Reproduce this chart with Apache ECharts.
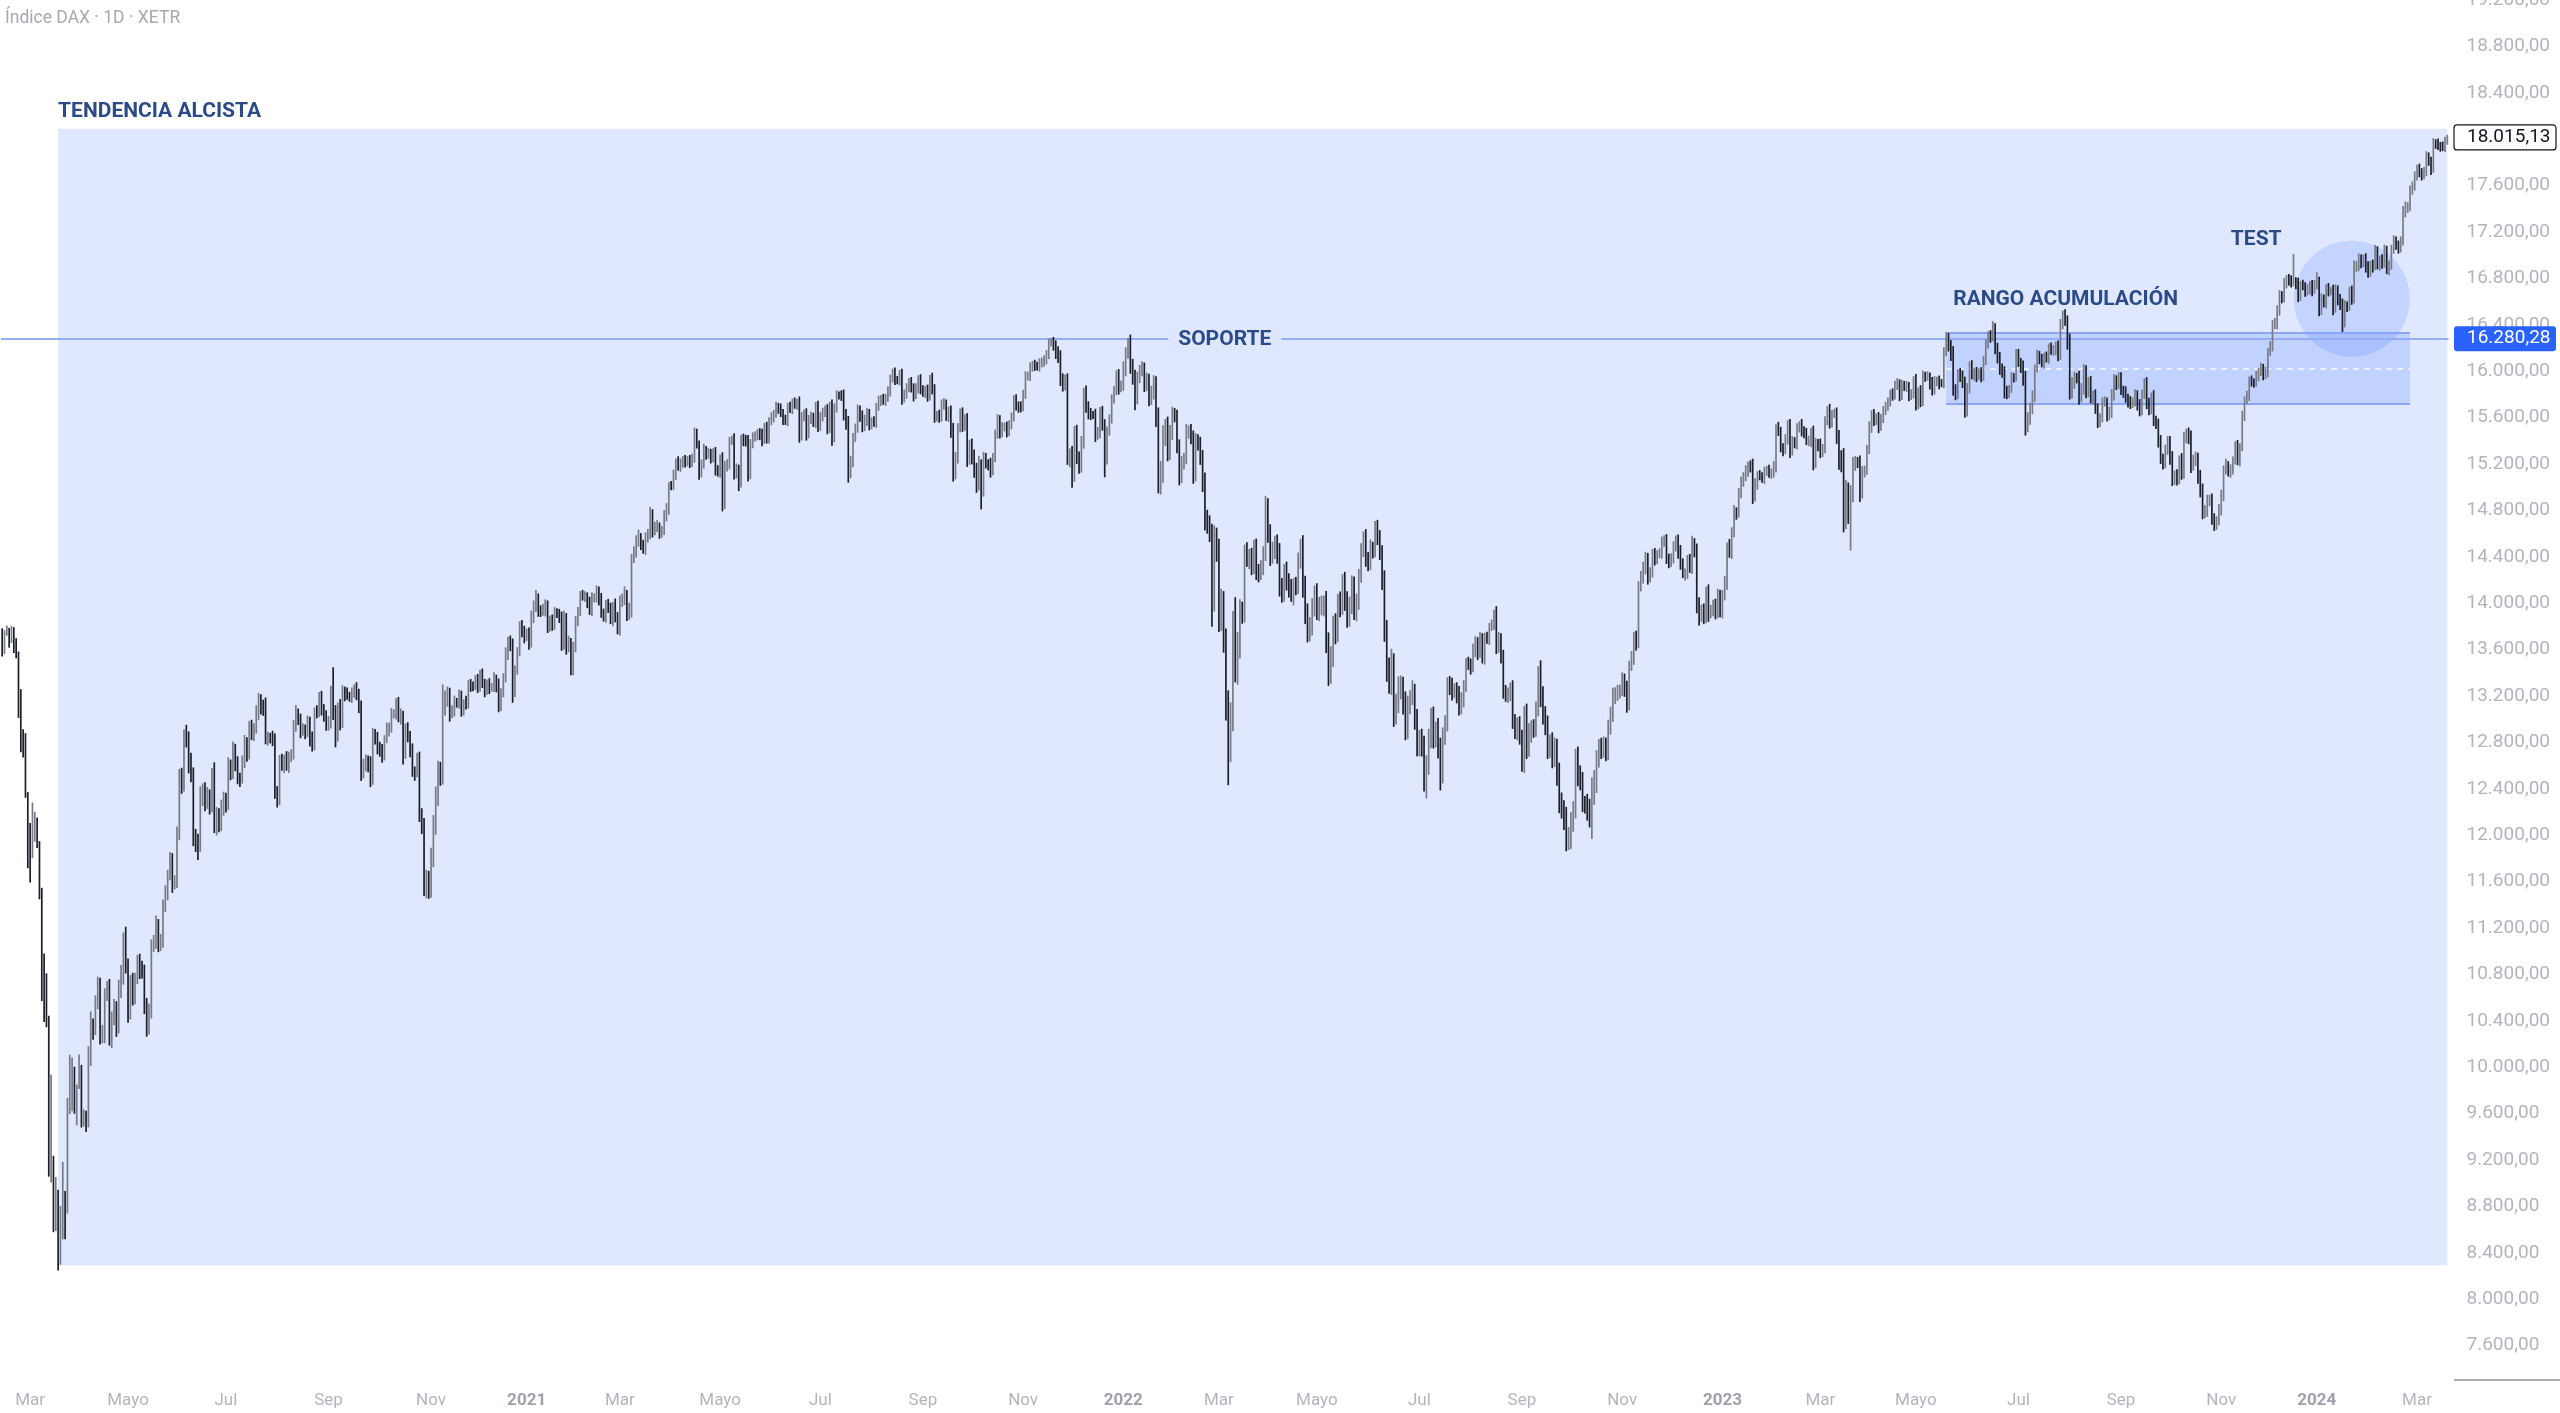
<!DOCTYPE html>
<html><head><meta charset="utf-8">
<script src="https://cdn.jsdelivr.net/npm/echarts@6/dist/echarts.min.js"></script>
<style>html,body{margin:0;padding:0;background:#fff;}#c{width:2560px;height:1413px;}</style>
</head><body><div id="c"></div>
<script>
// ---------- DATA ----------
const monthNames = ['Ene','Feb','Mar','Abr','Mayo','Jun','Jul','Ago','Sep','Oct','Nov','Dic'];
// trading sessions per month (2020 starts on 13 Feb, 2024 ends on 20 Mar)
const sessions2020 = [0,12,22,20,20,22,23,21,22,22,21,20];
const sessions2021 = [20,20,23,20,21,22,22,22,22,21,22,21];
const sessions2022 = [21,20,23,19,22,22,21,23,22,21,22,21];
const sessions2023 = [22,20,23,18,22,22,21,23,21,22,22,19];
const sessions2024 = [22,21,14];
const firstOpen = 13750;

const close2020 = [
13595,13744,13783,13681,13789,13664,13579,13035,12790,12775,12367,11890,
11857,12128,12128,11945,11542,10625,10475,10439,9161,9232,8742,8939,8442,8610,8929,8742,9701,9874,10000,9633,9816,9936,
9544,9571,9526,10075,10356,10332,10565,10697,10280,10301,10626,10676,10250,10416,10514,10336,10660,10796,11107,10862,
10467,10730,10606,10760,10904,10824,10820,10542,10337,10465,11058,11075,11223,11066,11074,11391,11504,11657,11781,11587,
11590,12021,12487,12431,12848,12820,12617,12530,11970,11949,11911,12316,12382,12281,12331,12262,12524,12093,12178,12089,12232,12311,
12261,12608,12528,12734,12616,12494,12489,12633,12800,12697,12931,12874,12920,13046,13171,13104,13103,12838,12838,12836,12822,12379,12313,
12647,12600,12660,12591,12675,12687,12947,13058,12994,12901,12920,12882,12977,12830,12765,13066,13062,13190,13096,13033,12945,
12974,13243,13057,12842,13100,12968,13237,13209,13202,13194,13218,13255,13208,13116,12542,12594,12642,12606,12469,12871,12826,12761,
12731,12689,12828,12906,12928,13042,13051,13138,13018,13028,12703,12909,12855,12737,12558,12543,12646,12178,12064,11560,11598,11556,
11788,12089,12325,12568,12480,13096,13163,13217,13053,13077,13139,13134,13202,13086,13138,13127,13292,13290,13286,13336,13291,
13382,13313,13253,13299,13271,13278,13340,13296,13114,13223,13362,13565,13667,13631,13246,13418,13587,13790,13761,13719];
const hiExt2020 = [
3,2,2,0,1,0,3,0,22,12,10,0,
21,15,7,2,0,0,35,33,0,70,0,11,0,19,25,0,3,23,8,0,3,17,
8,6,5,10,12,6,5,8,7,6,5,6,8,6,7,5,9,8,5,10,
7,6,8,5,6,7,9,6,5,8,4,6,8,5,7,5,6,4,7,6,
6,5,8,9,6,10,7,9,5,8,6,10,6,7,8,6,5,10,6,5,7,6,
5,6,4,7,5,6,4,5,6,4,5,6,4,7,5,4,6,8,5,4,6,5,4,
4,5,3,6,4,5,4,6,3,5,4,3,5,4,6,3,5,4,5,3,4,
5,4,20,6,4,7,5,4,6,3,5,4,6,5,4,6,5,4,7,5,4,6,
4,5,3,6,4,5,3,4,5,6,4,5,6,4,5,3,6,7,5,8,10,9,
10,8,9,7,6,20,8,6,5,4,6,4,5,4,3,6,4,5,3,4,5,
4,5,3,4,5,3,6,4,5,4,3,5,4,5,6,4,3,5,6,4];
const loExt2020 = [
5,3,2,6,2,9,5,2,7,10,4,17,
26,5,18,5,9,5,8,9,10,15,16,15,19,14,9,22,0,10,25,3,13,0,
6,5,8,4,6,9,5,6,8,7,9,5,6,8,5,7,4,6,8,5,
8,5,7,6,4,6,5,8,7,5,4,6,5,7,6,4,5,6,4,8,
5,4,6,7,5,6,8,7,6,9,12,5,6,7,5,8,6,7,9,6,5,6,
6,4,5,4,6,5,7,4,5,6,4,5,6,4,5,6,7,5,6,4,5,6,7,
5,4,6,3,5,4,3,5,4,6,4,5,3,6,4,3,5,4,6,5,4,
4,5,6,8,3,6,4,5,3,4,5,3,4,6,7,5,4,6,5,3,4,6,
5,6,4,3,5,4,3,5,4,6,9,4,5,6,5,7,4,6,5,8,10,10,
9,6,8,7,5,4,6,5,7,4,5,3,4,6,5,4,3,5,4,3,6,
5,4,6,4,5,3,4,6,5,4,3,4,5,4,10,5,3,4,5,6];

const close2021 = [
13726,13652,13892,13969,14050,13937,13926,13940,13989,13788,13848,13816,13922,13907,13874,13644,13871,13621,13666,13433,
13622,13835,13933,14060,14057,14059,14012,13933,14041,14050,14109,14034,13909,13886,13993,13950,13865,13976,13879,13786,
14012,14039,14080,13920,13920,14381,14437,14541,14570,14502,14461,14557,14596,14776,14621,14657,14662,14610,14621,14749,14818,15009,15008,
15107,15212,15177,15203,15234,15215,15234,15209,15255,15460,15368,15129,15195,15321,15280,15296,15249,15292,15155,15136,
15237,14856,15170,15197,15400,15400,15120,15150,15031,15417,15397,15386,15113,15370,15438,15438,15465,15450,15407,15520,15421,
15568,15603,15633,15693,15677,15640,15581,15571,15693,15674,15729,15711,15728,15448,15603,15636,15456,15589,15607,15554,15691,15531,
15603,15650,15661,15511,15692,15421,15688,15791,15790,15788,15630,15540,15133,15216,15423,15514,15669,15618,15519,15571,15640,15544,
15568,15555,15692,15745,15761,15745,15770,15826,15937,15977,15925,15922,15966,15765,15808,15852,15906,15861,15794,15852,15930,15835,
15824,15840,15781,15932,15844,15610,15623,15610,15701,15722,15616,15651,15490,15132,15249,15506,15644,15531,15574,15249,15365,15261,
15156,15036,15195,14973,15251,15206,15199,15147,15250,15462,15587,15474,15516,15522,15473,15543,15600,15758,15705,15696,15689,
15806,15955,15960,16030,16054,16047,16040,16067,16083,16094,16148,16248,16251,16221,16160,16116,15937,15878,15917,15257,15280,15100,
15473,15263,15170,15387,15813,15687,15639,15623,15622,15454,15476,15637,15532,15240,15479,15593,15756,15838,15964,15853,15885];
const hiExt2021 = [
5,6,4,5,6,3,4,5,4,3,4,5,4,3,4,5,6,4,5,3,
4,5,3,4,5,4,3,4,5,3,4,3,5,4,3,4,5,3,6,4,
5,4,6,3,8,4,5,4,6,3,4,5,4,5,3,4,5,3,4,5,4,3,4,
4,3,5,4,3,4,3,4,3,5,4,3,4,5,3,4,3,4,5,3,
4,6,5,4,3,4,6,5,4,3,4,5,6,4,3,4,3,4,5,3,4,
3,4,3,4,3,4,3,4,3,4,3,4,3,5,4,3,4,3,4,3,4,5,
4,3,4,5,4,6,3,4,3,4,5,4,7,5,4,3,4,3,4,5,4,3,
3,4,3,4,3,4,3,4,3,4,5,3,4,5,3,4,3,4,3,4,3,4,
4,3,4,3,5,4,3,4,5,4,3,4,5,6,5,4,3,4,5,6,4,5,
6,5,7,4,5,4,3,5,4,3,4,3,4,3,4,3,4,3,4,3,4,
3,4,3,4,3,4,3,4,3,4,3,3,3,4,4,5,6,4,5,6,5,7,
5,6,4,5,4,6,5,4,3,5,4,5,6,5,4,3,4,3,4,5,3];
const loExt2021 = [
4,5,3,6,4,5,4,3,5,4,3,5,4,3,4,5,4,6,4,5,
5,4,3,4,3,4,5,3,4,3,4,5,3,4,5,3,4,6,4,5,
6,4,5,7,6,4,3,4,5,4,3,4,3,4,5,3,4,5,4,3,4,5,3,
3,4,3,4,3,4,3,4,3,4,3,6,4,3,4,3,4,3,5,4,
5,6,4,3,4,3,5,4,6,3,4,3,6,4,3,4,3,4,5,3,4,
4,3,4,3,4,3,4,3,4,3,4,3,4,6,4,3,5,3,4,3,4,5,
4,3,4,5,4,6,3,4,3,4,5,4,9,5,4,3,4,5,4,3,4,5,
4,3,4,3,4,3,4,3,4,3,4,3,4,5,3,4,3,4,5,3,4,3,
4,5,4,3,4,5,4,5,4,3,4,5,6,8,6,4,3,5,4,7,5,6,
7,8,6,16,5,4,5,6,4,3,4,5,4,3,4,3,4,3,4,5,4,
3,4,3,4,3,4,3,4,3,4,3,4,3,4,5,4,6,5,4,6,8,10,
5,6,5,4,5,4,5,4,3,6,4,5,4,15,4,3,4,3,4,5,3];

const close2022 = [
16021,16152,16271,16052,15948,15768,15942,16010,16031,15884,15933,15773,15810,15912,15603,15011,15123,15460,15524,15318,15471,
15619,15613,15368,15100,15206,15242,15482,15490,15425,15114,15412,15370,15267,15042,14731,14693,14631,14052,14567,14461,
13905,14000,13698,13094,12835,13000,13848,13442,13628,13929,13917,14441,14388,14413,14326,14473,14284,14274,14306,14417,14821,14606,14415,
14446,14518,14424,14152,14078,14284,14193,14124,14076,14163,14153,14362,14502,14142,13924,13756,13796,13979,14098,
13940,13970,13971,14001,13674,13381,13535,13828,13740,14027,13964,14186,14008,13882,13982,14175,13919,14008,14231,14462,14575,14388,
14340,14485,14460,14654,14556,14446,14199,13762,13427,13304,13483,13038,13126,13265,13292,13145,12913,13118,13186,13231,13003,12784,
12813,12773,12401,12595,12843,13015,12832,12905,12756,12520,12865,12959,13308,13282,13246,13254,13211,13097,13167,13282,13484,
13479,13449,13588,13662,13574,13687,13535,13700,13694,13795,13816,13910,13626,13697,13544,13231,13194,13220,13271,12971,12893,12961,12835,
12631,13050,12761,12871,12916,12904,13088,13403,13189,13028,12957,12741,12803,12671,12767,12531,12284,12228,12140,11976,11976,12114,
12209,12671,12517,12471,12273,12272,12220,12172,12356,12438,12649,12765,12741,12767,12731,12932,13053,13196,13211,13243,13254,
13339,13257,13130,13460,13533,13689,13666,14146,14224,14313,14379,14234,14266,14432,14380,14422,14428,14540,14541,14383,14356,14397,
14490,14529,14448,14343,14261,14264,14371,14306,14497,14460,13987,13893,13943,13884,14098,13914,13941,13995,13925,14071,13924];
const hiExt2022 = [
6,5,1,4,5,6,5,4,5,4,5,4,6,5,4,8,10,7,6,8,6,
7,6,5,4,6,5,6,4,5,6,5,4,6,5,8,7,6,5,10,8,
9,12,10,8,15,14,8,20,12,10,8,6,8,5,6,7,8,5,6,7,10,8,7,
8,6,7,9,6,5,7,6,8,5,6,7,5,8,9,7,8,6,5,
7,8,9,6,10,7,9,6,8,5,7,6,8,9,7,6,5,7,6,5,4,6,
5,6,4,5,6,7,5,8,9,10,12,8,9,10,8,7,9,8,6,10,7,8,
9,10,8,9,7,8,9,7,10,8,6,7,5,6,7,5,6,7,6,5,4,
5,4,6,5,4,6,5,4,5,3,4,3,6,5,4,5,6,5,4,6,7,5,6,
7,6,8,9,7,8,6,5,10,9,8,7,6,8,7,6,9,8,7,10,9,8,
8,7,9,8,7,6,8,9,14,12,8,6,7,8,7,6,5,7,6,5,4,
6,5,7,4,5,6,7,4,5,4,6,5,4,3,4,3,4,3,4,5,4,3,
4,5,6,5,4,3,4,5,8,6,5,6,4,5,4,6,4,3,4,5,4];
const loExt2022 = [
5,6,4,7,6,10,5,4,5,6,5,7,6,5,8,6,7,8,10,9,8,
6,5,7,8,6,5,4,6,5,8,6,5,7,8,10,9,10,25,12,10,
15,14,12,10,40,20,10,12,14,10,9,8,7,9,8,7,8,9,7,6,5,8,9,
7,6,8,9,7,6,8,7,6,9,8,7,6,9,10,9,8,7,9,
8,9,7,8,10,9,7,8,9,7,8,6,7,9,8,7,6,7,6,5,6,7,
6,5,7,6,5,7,8,9,10,8,9,10,8,7,9,10,9,8,7,6,9,10,
10,9,2,8,7,9,8,7,9,13,7,8,6,7,8,6,7,6,5,6,4,
5,6,4,5,6,4,5,6,4,5,3,4,6,5,6,5,4,5,6,5,6,7,5,
8,9,10,8,7,6,5,6,8,7,9,8,7,9,8,10,9,8,9,11,10,9,
8,6,9,8,7,8,9,10,20,9,7,6,8,7,9,8,6,7,6,5,6,
5,6,7,5,4,6,7,5,4,5,6,7,5,4,5,4,3,4,5,4,5,4,
5,4,6,5,4,6,5,4,5,6,7,8,5,6,5,7,4,5,6,5,4];

const close2023 = [
14069,14181,14490,14436,14610,14792,14774,14948,15058,15086,15135,15187,15181,14920,15033,15103,15094,15082,15132,15150,15126,15128,
15180,15509,15476,15345,15321,15412,15524,15307,15397,15380,15506,15534,15482,15477,15398,15400,15476,15210,15381,15365,
15305,15328,15578,15654,15560,15631,15633,15428,15234,15233,14735,14967,14768,14934,15195,15216,15210,14957,15128,15142,15329,15523,15629,
15581,15603,15520,15597,15656,15703,15730,15808,15790,15883,15896,15795,15882,15864,15872,15796,15800,15922,
15726,15815,15734,15961,15953,15955,15896,15834,15914,15918,15898,15897,16163,16275,16224,16152,15843,15794,15984,15952,15909,15664,
15853,16051,15964,15992,15960,15990,15950,16098,16231,16310,16290,16358,16201,16111,16023,15988,15830,15813,15846,15949,15946,16148,
16081,16039,15938,15529,15603,15673,15790,16023,16141,16105,16068,16125,16109,16204,16177,16191,16211,16131,16406,16469,16447,
16240,15820,15893,15951,15950,15775,15853,15997,15832,15904,15767,15789,15676,15574,15603,15729,15729,15621,15632,15792,15930,15892,15947,
15840,15825,15772,15741,15718,15740,15801,15715,15655,15805,15894,15727,15664,15782,15571,15557,15406,15255,15217,15323,15387,
15247,15085,15100,15070,15230,15128,15423,15460,15425,15187,15237,15252,15095,14967,14798,14800,14880,14892,14731,14687,14716,14810,
14924,15144,15190,15136,15153,15230,15353,15234,15345,15615,15749,15787,15919,15902,15901,15958,15994,16029,15966,15992,16166,16215,
16398,16405,16533,16656,16629,16759,16794,16792,16766,16766,16751,16650,16744,16733,16687,16706,16742,16701,16752];
const hiExt2023 = [
4,5,3,6,4,5,3,4,3,4,5,3,4,6,4,3,4,3,4,3,4,3,
4,3,5,4,3,4,5,6,4,3,4,3,5,4,3,4,3,5,4,3,
5,4,3,4,6,3,4,5,6,8,10,9,7,8,6,5,4,6,5,4,3,4,3,
4,3,4,3,4,3,4,3,4,3,4,3,4,3,4,3,4,3,
5,4,6,4,3,4,3,5,4,3,4,3,4,6,5,4,6,4,3,4,5,4,
4,3,4,3,4,3,4,3,4,3,4,7,5,4,5,4,5,4,3,4,3,4,
4,3,5,6,4,5,4,3,4,3,4,3,4,3,4,3,4,5,4,5,6,
3,8,5,4,3,5,4,6,5,4,5,4,5,4,3,4,5,4,6,5,4,3,4,
4,3,4,3,4,3,4,3,4,3,4,5,4,3,5,4,3,4,3,4,5,
5,6,4,5,4,6,5,4,5,6,4,5,4,5,6,4,5,4,5,4,3,4,
5,4,5,3,4,3,4,5,3,4,3,4,3,4,3,4,3,4,3,4,3,4,
4,5,3,4,3,4,3,4,3,24,4,5,3,4,3,4,3,4,3];
const loExt2023 = [
5,4,6,4,5,4,5,3,4,5,3,4,5,6,4,5,3,4,5,3,4,5,
4,5,3,4,5,3,4,5,3,4,5,3,4,5,3,4,5,6,4,5,
5,4,3,4,5,4,3,5,8,10,12,9,8,31,6,5,4,8,5,4,3,4,5,
5,4,5,3,4,3,4,3,4,3,4,5,4,3,4,5,4,3,
6,5,4,3,4,3,5,4,3,4,5,3,4,3,5,6,5,4,3,4,5,6,
5,4,3,4,5,3,4,3,4,3,4,3,5,4,5,4,6,5,4,3,4,3,
4,5,6,8,5,6,4,5,3,4,3,4,3,4,3,4,5,4,3,4,5,
5,6,5,4,5,6,4,5,6,5,4,5,4,6,5,4,3,5,4,3,4,5,4,
4,5,4,5,4,3,4,5,4,3,4,5,4,3,4,5,6,5,6,5,4,
5,7,6,5,4,6,5,4,5,6,4,5,6,5,7,6,5,4,5,6,5,4,
5,4,3,4,5,4,3,4,5,3,4,3,4,3,4,3,4,3,4,3,4,3,
4,3,4,5,4,3,4,5,4,3,4,5,4,3,4,3,4,5,3];

const close2024 = [
16769,16538,16617,16594,16716,16689,16690,16547,16705,16622,16572,16432,16567,16555,16683,16627,16890,16907,16961,16942,16972,16904,
16859,16918,16904,17033,16922,16963,16927,17037,16881,16919,17046,17117,17092,17068,17118,17370,17419,17423,17556,17601,17678,
17735,17716,17698,17716,17842,17815,17746,17965,17961,17942,17936,17933,17987,18015];
const hiExt2024 = [
8,4,5,4,3,4,3,5,4,3,4,5,4,3,4,5,6,4,5,4,3,4,
4,3,4,5,4,3,4,5,4,3,4,5,4,3,4,5,4,3,4,3,4,
4,5,3,4,5,4,3,4,3,4,3,4,3,2];
const loExt2024 = [
4,6,5,4,5,4,3,6,4,5,4,9,5,4,3,5,4,3,4,5,4,5,
5,4,5,3,4,5,4,3,4,5,4,3,4,5,4,3,4,5,4,3,4,
3,4,5,4,3,4,5,3,4,3,4,3,4,3];

// annotations (date = [year, month, session index within month])
const supportLevel = 16280.28;
const lastPrice = 18015.13;
const trendFrom = [2020, 3, 12], trendTop = 18090, trendBottom = 8290;
const rangeFrom = [2023, 5, 13], rangeTo = [2024, 2, 18], rangeTop = 16330, rangeBottom = 15720;
const testCenter = [2024, 1, 15], testPrice = 16625;
const rangeLabelPrice = 16620, testLabelAt = [2023, 11, 15], testLabelPrice = 17130;

// ---------- BUILD ----------
const years = [
  [2020, sessions2020, close2020, hiExt2020, loExt2020],
  [2021, sessions2021, close2021, hiExt2021, loExt2021],
  [2022, sessions2022, close2022, hiExt2022, loExt2022],
  [2023, sessions2023, close2023, hiExt2023, loExt2023],
  [2024, sessions2024, close2024, hiExt2024, loExt2024]
];
const cats = [], bars = [], labelOf = {}, startIdx = {};
const issues = [];
let prev = firstOpen;
years.forEach(([y, ses, cl, hx, lx]) => {
  const tot = ses.reduce((a, b) => a + b, 0);
  if (tot !== cl.length || tot !== hx.length || tot !== lx.length) issues.push(y + ': ses ' + tot + ' c ' + cl.length + ' h ' + hx.length + ' l ' + lx.length);
  let p = 0;
  ses.forEach((n, m) => {
    startIdx[y + '-' + (m + 1)] = cats.length;
    for (let k = 0; k < n; k++) {
      const key = y + '-' + (m + 1) + '-' + k;
      if (k === 0 && m % 2 === 0) labelOf[key] = m === 0 ? '{y|' + y + '}' : '{m|' + monthNames[m] + '}';
      const c = cl[p] !== undefined ? cl[p] : prev;
      const o = prev;
      const h = Math.max(o, c) + (hx[p] || 0) * 10;
      const l = Math.min(o, c) - (lx[p] || 0) * 10;
      bars.push([cats.length, o, c, l, h]);
      cats.push(key);
      prev = c; p++;
    }
  });
});
const idxOf = d => startIdx[d[0] + '-' + d[1]] + d[2];
const lastIdx = cats.length - 1;

const fmt = v => { const s = Number(v).toFixed(2).split('.'); return s[0].replace(/\B(?=(\d{3})+(?!\d))/g, '.') + ',' + s[1]; };

const UP = '#787b86', DOWN = '#1c1f29', NAVY = '#2b4a86';
const LINE_BLUE = '#93aef4';
const FILL = 'rgba(41,98,255,0.15)';

const chart = echarts.init(document.getElementById('c'), null, {renderer: 'canvas'});
const option = {
  animation: false,
  backgroundColor: '#ffffff',
  textStyle: {fontFamily: 'Roboto'},
  grid: {left: 1, top: 0, width: 2447.5, height: 1392, containLabel: false, outerBoundsMode: 'none'},
  xAxis: {
    type: 'category', data: cats, boundaryGap: true,
    axisLine: {show: false}, axisTick: {show: false}, splitLine: {show: false},
    axisLabel: {
      interval: (i, v) => labelOf[v] !== undefined,
      formatter: v => labelOf[v] || '',
      margin: 0,
      rich: {
        m: {color: '#b2b5be', fontSize: 17, fontFamily: 'Roboto'},
        y: {color: '#9ea1a9', fontSize: 17, fontWeight: 'bold', fontFamily: 'Roboto'}
      }
    }
  },
  yAxis: {
    type: 'value', position: 'right', min: 7200, max: 19200, interval: 400,
    axisLine: {show: false}, axisTick: {show: false}, splitLine: {show: false},
    axisLabel: {margin: 18, fontSize: 19, color: '#b2b5be', fontFamily: 'Roboto',
      formatter: v => v < 7600 ? '' : fmt(v)}
  },
  series: [
    {
      type: 'line', data: [], z: 1, silent: true,
      markArea: {
        silent: true,
        data: [
          [{coord: [idxOf(trendFrom), trendTop], itemStyle: {color: FILL}}, {coord: [lastIdx, trendBottom]}],
          [{coord: [idxOf(rangeFrom), rangeTop], itemStyle: {color: 'rgba(41,98,255,0.16)'}}, {coord: [idxOf(rangeTo), rangeBottom]}]
        ]
      },
      markLine: {
        silent: true, symbol: ['none', 'none'],
        data: [
          {yAxis: supportLevel, lineStyle: {color: LINE_BLUE, width: 2, type: 'solid'}, label: {show: false}},
          [{coord: [idxOf(rangeFrom), rangeTop], lineStyle: {color: '#8aa5f5', width: 2, type: 'solid'}, label: {show: false}}, {coord: [idxOf(rangeTo), rangeTop]}],
          [{coord: [idxOf(rangeFrom), rangeBottom], lineStyle: {color: '#8aa5f5', width: 2, type: 'solid'}, label: {show: false}}, {coord: [idxOf(rangeTo), rangeBottom]}],
          [{coord: [idxOf(rangeFrom), (rangeTop + rangeBottom) / 2], lineStyle: {color: 'rgba(255,255,255,0.85)', width: 1.5, type: [6, 5]}, label: {show: false}}, {coord: [idxOf(rangeTo), (rangeTop + rangeBottom) / 2]}]
        ]
      }
    },
    {
      type: 'scatter', z: 2, silent: true, symbol: 'circle', symbolSize: 116,
      itemStyle: {color: 'rgba(41,98,255,0.18)'},
      data: [[idxOf(testCenter), testPrice]]
    },
    {
      type: 'custom', z: 5, silent: true,
      data: bars,
      encode: {x: 0, y: [1, 2, 3, 4]},
      renderItem: (params, api) => {
        const i = api.value(0), o = api.value(1), c = api.value(2), l = api.value(3), h = api.value(4);
        const pl = api.coord([i, l]), ph = api.coord([i, h]);
        const col = c >= o ? UP : DOWN;
        return {type: 'line', shape: {x1: pl[0], y1: pl[1] + 0.5, x2: ph[0], y2: ph[1] - 0.5}, style: {stroke: col, lineWidth: 1.7}};
      }
    }
  ]
};
chart.setOption(option);

const P = (i, v) => chart.convertToPixel({xAxisIndex: 0, yAxisIndex: 0}, [i, v]);
const Y = v => chart.convertToPixel({yAxisIndex: 0}, v);
const T = (x, y, text, font, fill, align, extra) => Object.assign({type: 'text', x: x, y: y, z: 50,
  style: Object.assign({text: text, font: font, fill: fill, align: align, verticalAlign: 'middle', textAlign: align, textVerticalAlign: 'middle'}, extra || {})});
const g = [];
g.push(T(5, 19, 'Índice DAX · 1D · XETR', '17.5px Roboto', '#a6a9b1', 'left'));
const tl = P(idxOf(trendFrom), trendTop);
g.push(T(tl[0], tl[1] - 17, 'TENDENCIA ALCISTA', 'bold 21px Roboto', NAVY, 'left'));
const rl = P(idxOf(rangeFrom), rangeLabelPrice);
g.push(T(rl[0] + 7, rl[1], 'RANGO ACUMULACIÓN', 'bold 21px Roboto', NAVY, 'left'));
const tt = P(idxOf(testLabelAt), testLabelPrice);
g.push(T(tt[0], tt[1], 'TEST', 'bold 21px Roboto', NAVY, 'center'));
// SOPORTE label centred on the support line
const sl = P(0, supportLevel), sr = P(lastIdx, supportLevel);
g.push(T((sl[0] + sr[0]) / 2, sl[1] + 1, 'SOPORTE', 'bold 21px Roboto', NAVY, 'center', {backgroundColor: '#dfe7ff', padding: [4, 10]}));
// price scale tags
const yl = Y(lastPrice);
g.push({type: 'rect', shape: {x: 2454, y: yl - 12.5, width: 102, height: 25, r: 3}, style: {fill: '#ffffff', stroke: '#131722', lineWidth: 1.2}, z: 100});
g.push(Object.assign(T(2467, yl, fmt(lastPrice), '19px Roboto', '#131722', 'left'), {z: 101}));
const ys = Y(supportLevel);
g.push({type: 'rect', shape: {x: 2454, y: ys - 12.5, width: 102, height: 25, r: 3}, style: {fill: '#2962ff'}, z: 100});
g.push(Object.assign(T(2467, ys, fmt(supportLevel), '19px Roboto', '#ffffff', 'left'), {z: 101}));
g.push({type: 'line', shape: {x1: 2454, y1: 1380, x2: 2560, y2: 1380}, style: {stroke: '#a9acb3', lineWidth: 2}});
if (issues.length) g.push({type: 'text', x: 400, y: 30, style: {text: issues.join(' | '), font: 'bold 24px Roboto', fill: 'red'}});
chart.setOption({graphic: g});
</script>
</body></html>
